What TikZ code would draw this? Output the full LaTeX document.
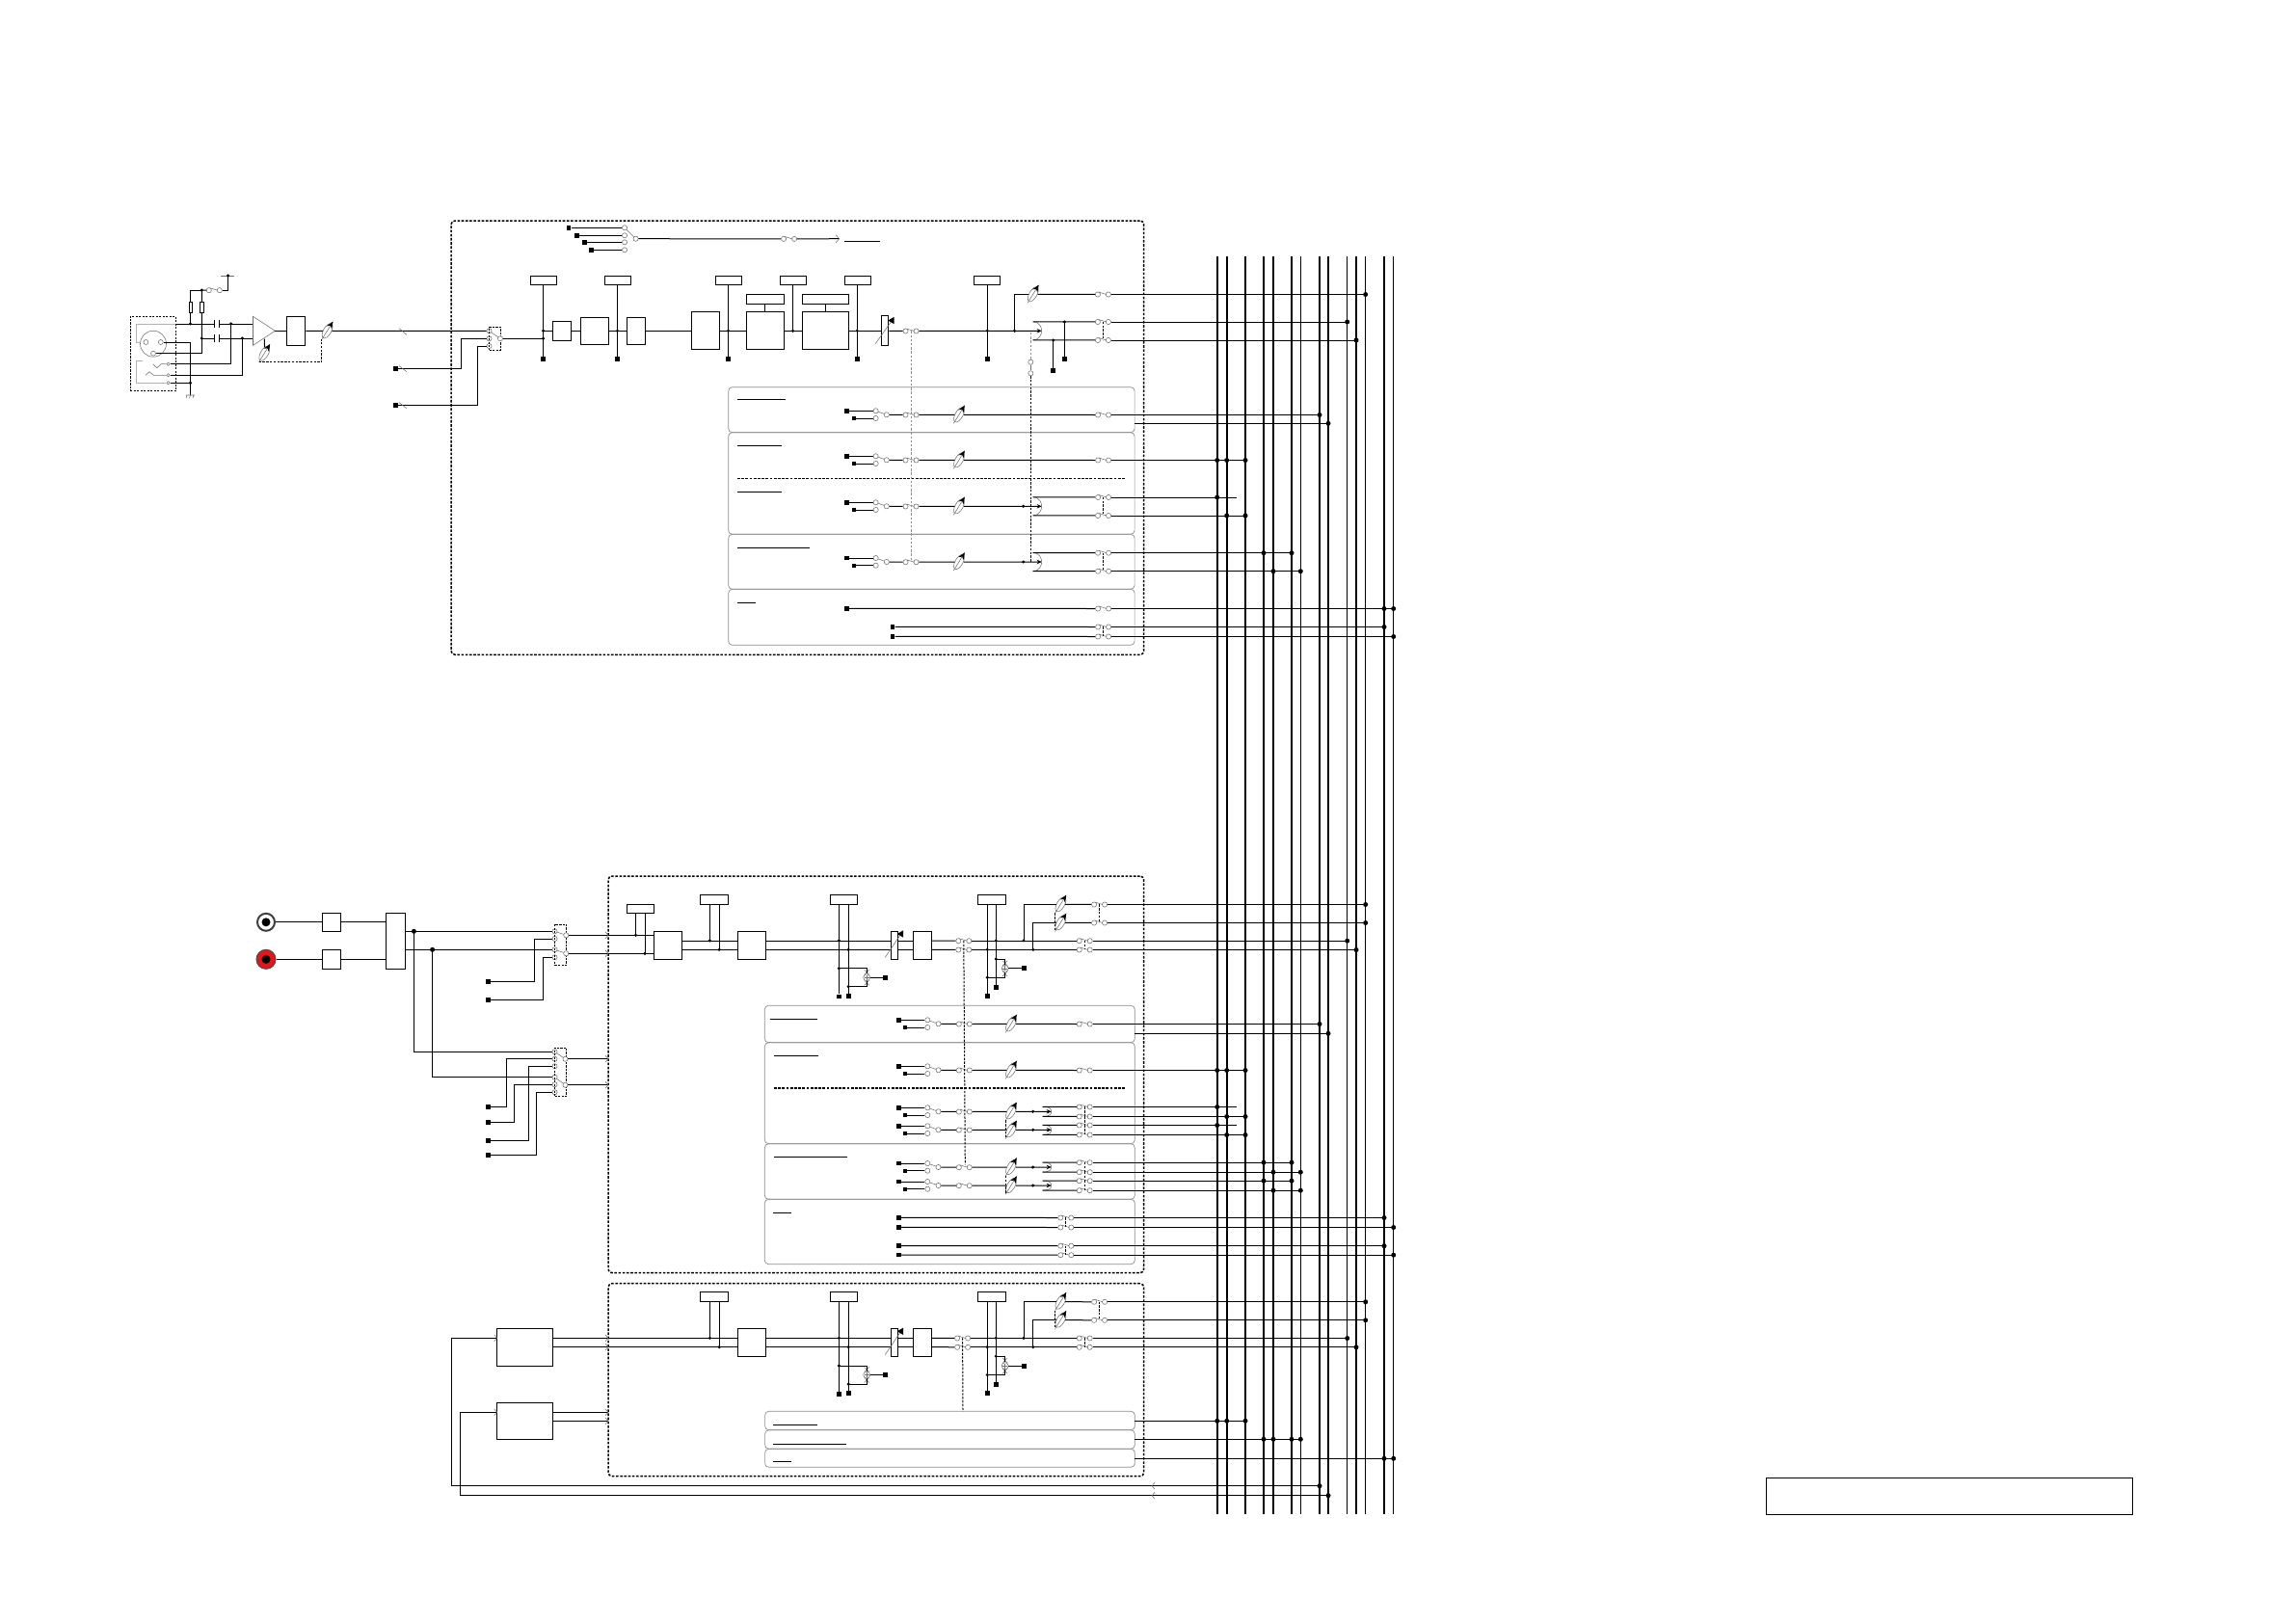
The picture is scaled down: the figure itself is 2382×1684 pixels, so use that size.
\documentclass[tikz,border=0pt]{standalone}
\usepackage{tikz}
\usetikzlibrary{arrows.meta,positioning,shapes.geometric,calc}
\definecolor{faint}{HTML}{707070}
\definecolor{plugred}{HTML}{E8141C}

\tikzset{
  wire/.style={line width=1pt, black},
  bus/.style={line width=1.8pt, black},
  busthin/.style={line width=1pt, black},
  trim/.style={line width=.55pt, faint},
  blockbox/.style={draw, line width=.9pt, inner sep=0pt, fill=white},
  tagbox/.style={draw, line width=.9pt, inner sep=0pt, fill=white},
  thinbox/.style={draw, line width=.6pt, inner sep=0pt, fill=white},
  panelbox/.style={draw=black!45, line width=.7pt, rounded corners=4pt, inner sep=0pt},
  groupbox/.style={draw, line width=1.5pt, dash pattern=on 2.6pt off 1.6pt, rounded corners=4pt, inner sep=0pt},
  gangbox/.style={draw, line width=.8pt, dash pattern=on 2.2pt off 1.3pt, inner sep=0pt},
  legendbox/.style={draw, line width=.6pt, inner sep=0pt},
  gang/.style={line width=1pt, dash pattern=on 2.4pt off 1.4pt},
  gangfaint/.style={line width=.7pt, black!45, dash pattern=on 2.4pt off 1.8pt},
  contact/.style={circle, draw=faint, fill=white, line width=.55pt, minimum size=5.2pt, inner sep=0pt},
  joint/.style={circle, fill=black, minimum size=3.4pt, inner sep=0pt},
  busjoint/.style={circle, fill=black, minimum size=5pt, inner sep=0pt},
  termsq/.style={rectangle, fill=black, minimum size=4.8pt, inner sep=0pt},
  faderring/.style={ellipse, draw=faint, fill=white, line width=.55pt, minimum width=8pt, minimum height=17pt, inner sep=0pt, rotate=-30},
  pics/contactsw/.style={code={
    \node[contact] (-l) at (-5.5,.2) {};
    \node[contact] (-r) at (5.5,.2) {};
    \coordinate (-c) at (0,0);
    \draw[trim] (-4.4,-2.2) -- (3.4,.2);
  }},
  pics/fader/.style={code={
    \node[faderring] (-c) at (0,0) {};
    \coordinate (-tail) at (-5.7,9);
    \draw[trim, -{Stealth[length=7.5pt,width=6pt,black]}] (-tail) -- (5.9,-9.8);
  }},
  pics/splitter/.style={code={
    \coordinate (-t) at (0,0);
    \coordinate (-a) at (-9,-#1);
    \coordinate (-b) at (-9,#1);
    \draw[trim] (-a) .. controls (-2,-#1) and (0,-3) .. (0,0) .. controls (0,3) and (-2,#1) .. (-b);
  }},
  pics/summer/.style={code={
    \node[contact, minimum size=7pt] (-c) at (0,0) {};
    \draw[trim] (-2.5,0) -- (2.5,0) (0,-2.5) -- (0,2.5);
    \draw[trim] (-2.4,-8) -- (2.4,-3) (2.4,-8) -- (-2.4,-3) (-2.4,8) -- (2.4,3) (2.4,8) -- (-2.4,3);
  }},
  pics/capacitor/.style={code={
    \coordinate (-l) at (-2.6,0);
    \coordinate (-r) at (2.6,0);
    \draw[line width=.6pt] (-l) ++(0,-4) -- ++(0,8) (-r) ++(0,-4) -- ++(0,8);
  }},
  pics/chev/.style={code={
    \draw[trim] (-3,-3.4) -- (0,0) -- (-3,3.4);
  }},
}

\newcounter{jcount}
\newcommand{\jdot}[2][joint]{\stepcounter{jcount}\node[#1] (j\arabic{jcount}) at (#2) {};}
\newcommand{\blk}[6][blockbox]{\node[#1, minimum width={(#5-(#3))*1pt}, minimum height={(#6-(#4))*1pt}] (#2) at ({(#3+#5)/2},{(#4+#6)/2}) {};}
\newcommand{\tap}[3]{\draw[wire] (#1) -- (#1 -| bus#2); \foreach \bn in {#3} {\jdot[busjoint]{#1 -| bus\bn}}}

% name, row, first terminal x, selector x, middle contact x, fader x
\newcommand{\chanrow}[6]{
  \node[termsq] (#1-ta) at (#3,#2-4) {};
  \node[termsq, minimum size=3.8pt] (#1-tb) at (#3+7,#2+3.7) {};
  \node[contact] (#1-sa) at (#4,#2-4) {};
  \node[contact] (#1-sb) at (#4,#2+3.7) {};
  \node[contact] (#1-mv) at (#4+11.2,#2) {};
  \draw[wire] (#1-ta) -- (#1-sa);
  \draw[wire] (#1-tb) -- (#1-sb);
  \draw[trim] (#1-sa) -- (#1-mv);
  \pic (#1-m) at (#5,#2) {contactsw};
  \pic (#1-f) at (#6,#2) {fader};
  \draw[wire] (#1-mv) -- (#1-m-l);
  \draw[wire] (#1-m-r) -- (#1-f-c);
}
% name, row, split x, half spread, out contact x
\newcommand{\splitrow}[5]{
  \pic (#1-s) at (#3,#2) {splitter=#4};
  \draw[wire, -{Stealth[length=5pt,width=4.5pt]}] (#1-f-c) -- (#1-s-t);
  \jdot{#3-19,#2}
  \pic (#1-oa) at (#5,#2-#4) {contactsw};
  \pic (#1-ob) at (#5,#2+#4) {contactsw};
  \draw[wire] (#1-s-a) -- (#1-oa-l);
  \draw[wire] (#1-s-b) -- (#1-ob-l);
  \draw[gang] (#1-oa-c) -- (#1-ob-c);
}
% name, left x, right x, row
\newcommand{\tagplain}[4]{
  \blk[tagbox]{#1}{#2-10}{#4-47.7}{#3+9.3}{#4-37.7}
  \coordinate (#1-x) at (#2,#4);
  \coordinate (#1-y) at (#3,#4+9.3);
  \draw[wire] (#1-x |- #1.south) -- (#1-x);
  \draw[wire] (#1-y |- #1.south) -- (#1-y);
  \jdot{#1-x}
  \jdot{#1-y}
}
\newcommand{\tagsumA}[4]{
  \blk[tagbox]{#1}{#2-9}{#4-47.7}{#3+9}{#4-37.7}
  \node[termsq] (#1-tl) at (#2,#4+58) {};
  \node[termsq] (#1-tr) at (#3,#4+57.3) {};
  \coordinate (#1-d1) at (#2,#4+28.7);
  \coordinate (#1-d2) at (#3,#4+47.7);
  \pic (#1-u) at (#3+19,#4+38.2) {summer};
  \node[termsq] (#1-to) at (#3+38,#4+38.2) {};
  \draw[wire] (#1-tl |- #1.south) -- (#1-tl);
  \draw[wire] (#1-tr |- #1.south) -- (#1-tr);
  \draw[wire] (#1-d1) -| (#1-u-c);
  \draw[wire] (#1-d2) -| (#1-u-c);
  \draw[wire] (#1-u-c) -- (#1-to);
  \jdot{#2,#4}
  \jdot{#3,#4+9.3}
  \jdot{#1-d1}
  \jdot{#1-d2}
}
\newcommand{\tagsumB}[4]{
  \blk[tagbox]{#1}{#2-10}{#4-47.7}{#3+10}{#4-37.7}
  \node[termsq] (#1-tl) at (#2,#4+57.3) {};
  \node[termsq] (#1-tr) at (#3,#4+48.3) {};
  \coordinate (#1-d1) at (#3,#4+19);
  \coordinate (#1-d2) at (#2,#4+38.2);
  \pic (#1-u) at (#3+9.4,#4+28.8) {summer};
  \node[termsq] (#1-to) at (#3+29,#4+28.8) {};
  \draw[wire] (#1-tl |- #1.south) -- (#1-tl);
  \draw[wire] (#1-tr |- #1.south) -- (#1-tr);
  \draw[wire] (#1-d1) -| (#1-u-c);
  \draw[wire] (#1-d2) -| (#1-u-c);
  \draw[wire] (#1-u-c) -- (#1-to);
  \jdot{#3,#4}
  \jdot{#2,#4+9.3}
  \jdot{#1-d1}
  \jdot{#1-d2}
}
% name, row, x of the ganged contacts
\newcommand{\stereotail}[3]{
  \blk{#1-p}{765.3}{#2-9.7}{794.6}{#2+19.3}
  \blk{#1-g}{924.3}{#2-9.7}{931.5}{#2+19.3}
  \blk{#1-q}{947.3}{#2-9.7}{966.6}{#2+19.3}
  \tagplain{#1-tp}{736.4}{746.2}{#2}
  \tagsumA{#1-ta}{870.4}{880.2}{#2}
  \tagsumB{#1-tb}{1024.3}{1033.3}{#2}
  \foreach \s/\dy in {a/0,b/9.3} {
    \coordinate (#1-\s) at (794.6,#2+\dy);
    \pic (#1-m\s) at (#3,#2+\dy) {contactsw};
    \pic (#1-c\s) at (1125.2,#2+\dy) {contactsw};
    \draw[wire] (#1-\s) -- (#1-g.west |- #1-\s);
    \draw[wire] (#1-g.east |- #1-\s) -- (#1-q.west |- #1-\s);
    \draw[wire] (#1-q.east |- #1-\s) -- (#1-m\s-l);
    \draw[wire] (#1-m\s-r) -- (#1-c\s-l);
  }
  \draw[gang] (#1-ca-c) -- (#1-cb-c);
  \draw[trim] (918.3,#2+17.3) -- (934,#2-6);
  \node[regular polygon, regular polygon sides=3, fill=black, minimum size=8.5pt, inner sep=0pt, rotate=-30] (#1-gt) at (935,#2-7) {};
  \tap{#1-ca-r}{j}{j};
  \tap{#1-cb-r}{k}{k};
  \pic (#1-fa) at (1100.4,#2-37.7) {fader};
  \pic (#1-fb) at (1100.4,#2-18.7) {fader};
  \pic (#1-da) at (1140.6,#2-37.7) {contactsw};
  \pic (#1-db) at (1140.6,#2-18.7) {contactsw};
  \coordinate (#1-ja) at (1062,#2);
  \coordinate (#1-jb) at (1071.8,#2+9.3);
  \draw[wire] (#1-ja) |- (#1-fa-c);
  \draw[wire] (#1-jb) |- (#1-fb-c);
  \draw[wire] (#1-fa-c) -- (#1-da-l);
  \draw[wire] (#1-fb-c) -- (#1-db-l);
  \draw[gang] (#1-fa-tail) -- (#1-fb-tail);
  \draw[gang] (#1-da-c) -- (#1-db-c);
  \jdot{#1-ja}
  \jdot{#1-jb}
  \tap{#1-da-r}{l}{l};
  \tap{#1-db-r}{l}{l};
}

\begin{document}
\begin{tikzpicture}[x=1pt,y=-1pt]
  \useasboundingbox (0,0) rectangle (2382,1684);

  % output buses
  \foreach \bn/\bx/\bw in {a/1262.7/bus,b/1272.7/bus,c/1292/bus,d/1311/bus,e/1321/bus,
      f/1340/bus,g/1349.3/busthin,h/1369/bus,i/1378/bus,j/1397.7/busthin,k/1407/bus,
      l/1416.7/busthin,m/1436/bus,n/1445.7/busthin} {
    \coordinate (bus\bn) at (\bx,266);
    \coordinate (bus\bn-e) at (\bx,1570.7);
    \draw[\bw] (bus\bn) -- (bus\bn-e);
  }
  \coordinate (busz) at (1282.7,266);

  % group frames
  \blk[groupbox]{groupA}{468}{229}{1186.7}{679.3}
  \blk[groupbox]{groupB}{631}{909}{1186.7}{1320.7}
  \blk[groupbox]{groupC}{631}{1331.7}{1186.7}{1531.7}
  \blk[legendbox]{legend}{1832}{1533}{2212}{1571}

  % send panels, first group
  \blk[panelbox]{panA}{755.7}{401.7}{1177.1}{448.7}
  \blk[panelbox]{panB}{755.7}{448.7}{1177.1}{554.3}
  \blk[panelbox]{panC}{755.7}{554.3}{1177.1}{611.3}
  \blk[panelbox]{panD}{755.7}{611.3}{1177.1}{669.3}
  % send panels, second group
  \blk[panelbox]{panE}{793.3}{1043.3}{1177.3}{1081.7}
  \blk[panelbox]{panF}{793.3}{1081.7}{1177.3}{1186.7}
  \blk[panelbox]{panG}{793.3}{1186.7}{1177.3}{1244.3}
  \blk[panelbox]{panH}{793.3}{1244.3}{1177.3}{1311.7}
  % send panels, third group
  \blk[panelbox]{panI}{793.6}{1464.3}{1177.3}{1483.7}
  \blk[panelbox]{panJ}{793.6}{1483.7}{1177.3}{1503.3}
  \blk[panelbox]{panK}{793.6}{1503.3}{1177.3}{1522.3}

  \foreach \xa/\xb/\yy in {765/815/414,765/811/462.3,765/811/510.3,765/840/568,765/784/625.3,
      799/847.7/1057.3,803/849/1095.3,803/879/1200.3,802/821/1258.3,
      802/848/1478.3,802/878/1498.3,802/821/1516.3,876/913/250} {
    \draw[line width=.8pt] (\xa,\yy) -- (\xb,\yy);
  }
  \draw[line width=1.3pt, dash pattern=on 2.8pt off 1.4pt] (765,496.7) -- (1167,496.7);
  \draw[line width=1.3pt, dash pattern=on 2.8pt off 1.4pt] (803,1129) -- (1166.7,1129);

  % mic input
  \blk[gangbox]{micjack}{135}{328.3}{182.5}{405.7}
  \node[contact, minimum size=27pt] (xlr) at (159,356.7) {};
  \node[contact, minimum size=5pt] (pinA) at (151.4,355) {};
  \node[contact, minimum size=5pt] (pinB) at (166.8,355) {};
  \node[contact, minimum size=5pt] (pinC) at (159,366.7) {};
  \draw[line width=.9pt, black!30] (182,336) -- (141.4,336) -- (141.4,355) -- (146,355);
  \draw[line width=.9pt, black!30] (147.5,374) -- (141.4,374) -- (141.4,397.3) -- (172,397.3);
  \node[contact, minimum size=3.4pt] (ringP) at (174.6,377.7) {};
  \node[contact, minimum size=3.4pt] (ringQ) at (174.6,389.3) {};
  \node[contact, minimum size=3.4pt] (ringS) at (174.6,397.3) {};
  \draw[trim] (158.6,377.7) -- (162.9,381.7) -- (167,377.7) -- (ringP);
  \draw[trim] (151,389.3) -- (155,385.7) -- (159.3,389.3) -- (ringQ);
  \coordinate (micT) at (182.5,336);
  \coordinate (micA) at (197.5,336);
  \coordinate (micB) at (209.3,351);
  \coordinate (micU) at (197.5,301);
  \coordinate (micV) at (209.3,301);
  \coordinate (micGnd) at (197.5,410);
  \coordinate (micS) at (197.5,397.3);
  \coordinate (micP) at (239.6,336);
  \coordinate (micQ) at (251.4,351);
  \coordinate (ampA) at (262.5,336);
  \coordinate (ampB) at (262.5,351);
  \coordinate (ampO) at (285.4,343.3);
  \coordinate (ampS) at (274.3,351.5);
  \coordinate (phan) at (236.6,286);
  \blk[thinbox]{resA}{195.9}{313.3}{199.1}{324.7}
  \blk[thinbox]{resB}{207.5}{313.3}{211.1}{324.7}
  \pic (micsw) at (222.3,301) {contactsw};
  \pic (capA) at (224.4,336) {capacitor};
  \pic (capB) at (224.4,351) {capacitor};
  \draw[wire] (micT) -- (capA-l);
  \draw[wire] (micB) -- (capB-l);
  \draw[wire] (capA-r) -- (ampA);
  \draw[wire] (capB-r) -- (ampB);
  \draw[wire] (micA) -- (resA) -- (micU) -- (micV);
  \draw[wire] (micB) -- (resB) -- (micV) -- (micsw-l);
  \draw[wire] (micsw-r) -| (phan);
  \draw[wire] (pinB) -| (micGnd);
  \draw[wire] (pinC) -| (micB);
  \draw[wire] (ringP) -| (micP);
  \draw[wire] (ringQ) -| (micQ);
  \draw[wire] (ringS) -- (micS);
  \draw[trim] (229,286) -- (243,286);
  \draw[trim] (193,410) -- (202,410) (194,410) -- (193,413) (197.5,410) -- (196.5,413) (201,410) -- (200,413);
  \foreach \p in {micA,micB,micV,micP,micQ,micS,phan} {\jdot{\p}}
  \draw[trim] (ampA) -- (262.5,328.3) -- (ampO) -- (262.5,358.3) -- (ampB) -- cycle;
  \blk{micbox}{297.5}{328.3}{316.8}{358.3}
  \pic (micf) at (339.6,343.3) {fader};
  \pic (micg) at (274.3,366.7) {fader};
  \draw[wire] (ampO) -- (micbox);
  \draw[wire] (micbox) -- (micf-c);
  \draw[wire] (ampS) -- (micg-c);
  \draw[gang] (micg-tail) -| (micf-tail);

  % input selector
  \node[contact] (inA) at (507.5,343.3) {};
  \node[contact] (inB) at (507.5,351.3) {};
  \node[contact] (inC) at (507.5,359) {};
  \blk[gangbox, fill=none]{ingang}{507.5}{339.3}{519.3}{363.3}
  \node[contact] (inM) at (519,351.3) {};
  \draw[trim] (inA) -- (inM);
  \draw[wire] (micf-c) -- (inA);
  \draw[trim] (414,340.7) -- (421.8,347.3);
  \foreach \n/\yy/\cc/\kx in {a/382.3/inB/478.9,b/420.3/inC/495.4} {
    \node[termsq] (lineIn\n) at (410.4,\yy) {};
    \coordinate (kink\n) at (\kx,\yy);
    \draw[wire] (lineIn\n) -- (lineIn\n -| kink\n) |- (\cc);
    \draw[trim] (414,\yy-2.7) -- (421.8,\yy+3.3);
  }

  % source selector
  \foreach \n/\xx/\yy in {a/590/236.3,b/598.6/244.3,c/606.4/251.3,d/613.6/259.3} {
    \node[termsq] (src\n) at (\xx,\yy) {};
    \node[contact] (srcc\n) at (648,\yy) {};
    \draw[wire] (src\n) -- (srcc\n);
  }
  \node[contact] (srcm) at (659.6,247.7) {};
  \draw[trim] (srcca) -- (srcm);
  \pic (cueSw) at (818.6,247.7) {contactsw};
  \coordinate (cueEnd) at (870.7,247.7);
  \draw[wire] (srcm) -- (cueSw-l);
  \draw[wire] (cueSw-r) -- (cueEnd);
  \pic[scale=1.2] (cueTip) at (870.7,247.7) {chev};

  % main chain, first group
  \coordinate (mainA) at (563.6,351.3);
  \coordinate (mainB) at (563.6,343.3);
  \blk[tagbox]{tagA}{550.4}{286.3}{577.5}{295.7}
  \node[termsq] (termA) at (563.6,372.3) {};
  \draw[wire] (termA |- tagA.south) -- (termA);
  \blk{boxA}{573.2}{333.6}{592.5}{353}
  \blk{boxB}{602}{329}{631.4}{357.6}
  \blk{boxC}{650.4}{329}{669.4}{357.6}
  \blk{boxD}{717.5}{323.8}{746.8}{362.8}
  \blk{boxE}{774.3}{323.8}{813.6}{362.8}
  \blk{boxF}{832.5}{323.8}{880.4}{362.8}
  \blk[tagbox]{tagE}{774.3}{305.7}{813.6}{315.7}
  \blk[tagbox]{tagF}{832.5}{305.7}{880.4}{315.7}
  \draw[wire] (tagE) -- (boxE);
  \draw[wire] (tagF) -- (boxF);
  \blk[tagbox]{tagB}{627.5}{286.3}{654.6}{295.7}
  \blk[tagbox]{tagD}{742.5}{286.3}{769.6}{295.7}
  \blk[tagbox]{tagG}{809.3}{286.3}{836.4}{295.7}
  \blk[tagbox]{tagH}{876.4}{286.3}{903.6}{295.7}
  \blk[tagbox]{tagJ}{1010.4}{286.3}{1037.5}{295.7}
  \node[termsq] (termB) at (640.4,372.3) {};
  \node[termsq] (termD) at (755.4,372.3) {};
  \coordinate (termG) at (822.5,343.3);
  \node[termsq] (termH) at (889.3,372.3) {};
  \node[termsq] (termJ) at (1024.3,372.3) {};
  \foreach \g/\t in {tagB/termB,tagD/termD,tagG/termG,tagH/termH,tagJ/termJ} {
    \draw[wire] (\t |- \g.south) -- (\t);
    \jdot{\t |- mainB}
  }
  \draw[wire] (inM) -- (mainA);
  \draw[wire] (mainB) -- (boxA) -- (boxB) -- (boxC) -- (boxD) -- (boxE) -- (boxF);
  \jdot{mainA}
  \jdot{mainB}
  \blk{gainA}{914.3}{327.8}{921.8}{358.8}
  \draw[wire] (boxF) -- (gainA);
  \draw[trim] (908.2,356.7) -- (925,333);
  \node[regular polygon, regular polygon sides=3, fill=black, minimum size=8.5pt, inner sep=0pt, rotate=-30] (gainTip) at (925.5,332.5) {};
  \pic (mainSw) at (945,343.3) {contactsw};
  \draw[wire] (gainA) -- (mainSw-l);
  \pic (mainSplit) at (1080.7,343.3) {splitter=9.5};
  \draw[wire, -{Stealth[length=5pt,width=4.5pt]}] (mainSw-r) -- (mainSplit-t);
  \coordinate (mainC) at (1052.5,343.3);
  \jdot{mainC}
  \pic (mainFad) at (1071.8,305.3) {fader};
  \draw[wire] (mainC) |- (mainFad-c);
  \pic (outA) at (1144.4,305.3) {contactsw};
  \pic (outB) at (1144.4,333.8) {contactsw};
  \pic (outC) at (1144.4,352.8) {contactsw};
  \draw[wire] (mainFad-c) -- (outA-l);
  \draw[wire] (mainSplit-a) -- (outB-l);
  \draw[wire] (mainSplit-b) -- (outC-l);
  \draw[gang] (outB-c) -- (outC-c);
  \node[termsq] (termK) at (1104.4,372.3) {};
  \node[termsq] (termL) at (1092.7,384.3) {};
  \draw[wire] (termK |- outB-r) -- (termK);
  \draw[wire] (termL |- outC-r) -- (termL);
  \jdot{termK |- outB-r}
  \jdot{termL |- outC-r}
  \tap{outA-r}{l}{l};
  \tap{outB-r}{j}{j};
  \tap{outC-r}{k}{k};

  % sends, first group
  \chanrow{ra}{430.3}{878.6}{908.6}{945}{995}
  \chanrow{rb}{477.3}{878.6}{908.6}{945}{995}
  \chanrow{rc}{525.3}{878.6}{908.6}{945}{995}
  \chanrow{rd}{583}{878.6}{908.6}{945}{995}
  \pic (ra-o) at (1144.6,430.3) {contactsw};
  \pic (rb-o) at (1144.6,477.3) {contactsw};
  \draw[wire] (ra-f-c) -- (ra-o-l);
  \draw[wire] (rb-f-c) -- (rb-o-l);
  \tap{ra-o-r}{h}{h};
  \coordinate (panA-out) at (1177,439.3);
  \tap{panA-out}{i}{i};
  \tap{rb-o-r}{c}{a,b,c};
  \splitrow{rc}{525.3}{1080.7}{9.5}{1144.6}
  \splitrow{rd}{583}{1080.7}{9.5}{1144.6}
  \tap{rc-oa-r}{z}{a};
  \tap{rc-ob-r}{c}{b,c};
  \tap{rd-oa-r}{f}{d,f};
  \tap{rd-ob-r}{g}{e,g};
  \pic (auxA) at (1144.6,631.3) {contactsw};
  \pic (auxB) at (1144.6,650.3) {contactsw};
  \pic (auxC) at (1144.6,660.3) {contactsw};
  \node[termsq] (auxTa) at (878.6,631.3) {};
  \node[termsq] (auxTb) at (926,650.3) {};
  \node[termsq] (auxTc) at (926,660.3) {};
  \draw[wire] (auxTa) -- (auxA-l);
  \draw[wire] (auxTb) -- (auxB-l);
  \draw[wire] (auxTc) -- (auxC-l);
  \draw[gang] (auxB-c) -- (auxC-c);
  \tap{auxA-r}{n}{m,n};
  \tap{auxB-r}{m}{m};
  \tap{auxC-r}{n}{n};

  % gang lines, first group
  \coordinate (gangA) at (945,581.7);
  \draw[gangfaint] (mainSw-c) -- (gangA);
  \node[contact] (mixA) at (1069.3,375.7) {};
  \node[contact] (mixB) at (1069.3,387.3) {};
  \coordinate (mixC) at (1069.3,345);
  \coordinate (mixD) at (1069.3,583.3);
  \draw[trim] (mixA) -- (mixB);
  \draw[gangfaint] (mixC) -- (mixA);
  \draw[gang] (mixB) -- (mixD);

  % phono inputs
  \node[circle, draw=black!75, fill=white, line width=2pt, minimum size=18pt, inner sep=0pt] (jackW) at (276,956.8) {};
  \node[circle, fill=black, minimum size=9pt, inner sep=0pt] (jackWc) at (276,956.8) {};
  \node[circle, draw=black!70, fill=plugred, line width=1pt, minimum size=20pt, inner sep=0pt] (jackR) at (276,995.3) {};
  \node[circle, fill=black, minimum size=9pt, inner sep=0pt] (jackRc) at (276,995.3) {};
  \blk{padA}{334.3}{947.3}{353.5}{966.3}
  \blk{padB}{334.3}{985.3}{353.5}{1005.3}
  \blk{merge}{400.4}{947.3}{420.4}{1005.3}
  \draw[wire] (jackW) -- (padA);
  \draw[wire] (jackR) -- (padB);
  \draw[wire] (padA) -- (merge.west |- padA);
  \draw[wire] (padB) -- (merge.west |- padB);

  \foreach \n/\yy in {1/966.3,2/974,3/985.3,4/993.3} {\node[contact] (sa\n) at (575.5,\yy) {};}
  \foreach \n/\yy in {1/1091.3,2/1098.7,3/1106.3,4/1117.7,5/1125.3,6/1133.3} {\node[contact] (sb\n) at (575.5,\yy) {};}
  \blk[gangbox, fill=none]{gangSa}{575.5}{959.3}{587.8}{1001.3}
  \blk[gangbox, fill=none]{gangSb}{575.5}{1087.3}{587.8}{1137.3}
  \node[contact] (saMa) at (587.3,970.3) {};
  \node[contact] (saMb) at (587.3,989.3) {};
  \node[contact] (sbMa) at (586.5,1098.7) {};
  \node[contact] (sbMb) at (586.5,1125.7) {};
  \draw[trim] (sa1) -- (saMa) (sa3) -- (saMb) (sb1) -- (sbMa) (sb4) -- (sbMb);
  \coordinate (mergeA) at (429.4,966.3);
  \coordinate (mergeB) at (448.6,985.3);
  \draw[wire] (merge.east |- sa1) -- (sa1);
  \draw[wire] (merge.east |- sa3) -- (sa3);
  \draw[wire] (mergeA) |- (sb1);
  \draw[wire] (mergeB) |- (sb4);
  \jdot[busjoint]{mergeA}
  \jdot[busjoint]{mergeB}
  \foreach \n/\yy/\cc/\kx in {a/1018.3/sa2/554.3,b/1037.3/sa4/563.3,c/1148.3/sb2/525.3,
      d/1164.3/sb5/533.5,e/1183.3/sb3/548.2,f/1198.3/sb6/556.3} {
    \node[termsq] (phono\n) at (506.5,\yy) {};
    \coordinate (pkink\n) at (\kx,\yy);
    \draw[wire] (phono\n) -- (phono\n -| pkink\n) |- (\cc);
  }
  \foreach \n/\from/\yy in {a/saMa/970.3,b/saMb/989.3,c/sbMa/1098.7,d/sbMb/1125.7} {
    \coordinate (edge\n) at (631,\yy);
    \draw[wire] (\from) -- (edge\n);
    \pic (chev\n) at (edge\n) {chev};
  }

  % second group
  \blk{boxN}{678.4}{966.3}{707.8}{995.3}
  \blk[tagbox]{tagN}{650}{938.3}{678.8}{947.7}
  \coordinate (nodeNa) at (659.6,970.3);
  \coordinate (nodeNb) at (669,989.3);
  \draw[wire] (edgea) -- (boxN.west |- edgea);
  \draw[wire] (edgeb) -- (boxN.west |- edgeb);
  \draw[wire] (nodeNa |- tagN.south) -- (nodeNa);
  \draw[wire] (nodeNb |- tagN.south) -- (nodeNb);
  \jdot{nodeNa}
  \jdot{nodeNb}
  \stereotail{ts}{976}{999.8}
  \draw[wire] (boxN.east |- ts-a) -- (ts-p.west |- ts-a);
  \draw[wire] (boxN.east |- ts-b) -- (ts-p.west |- ts-b);

  \chanrow{sa}{1062.3}{932.3}{962.3}{1000.3}{1049}
  \chanrow{sb}{1110.3}{932.3}{962.3}{1000.3}{1049}
  \chanrow{sc}{1153.3}{932.3}{962.3}{1000.3}{1049}
  \chanrow{sd}{1172.3}{932.3}{962.3}{1000.3}{1049}
  \chanrow{se}{1211}{932.3}{962.3}{1000.3}{1049}
  \chanrow{sf}{1230}{932.3}{962.3}{1000.3}{1049}
  \pic (sa-o) at (1125.2,1062.3) {contactsw};
  \pic (sb-o) at (1125.2,1110.3) {contactsw};
  \draw[wire] (sa-f-c) -- (sa-o-l);
  \draw[wire] (sb-f-c) -- (sb-o-l);
  \tap{sa-o-r}{h}{h};
  \coordinate (panE-out) at (1177.3,1072.3);
  \tap{panE-out}{i}{i};
  \tap{sb-o-r}{c}{a,b,c};
  \splitrow{sc}{1153.3}{1090.7}{5}{1125.2}
  \splitrow{sd}{1172.3}{1090.7}{5}{1125.2}
  \splitrow{se}{1211}{1090.7}{5}{1125.2}
  \splitrow{sf}{1230}{1090.7}{5}{1125.2}
  \draw[gang] (sc-f-tail) -- (sd-f-tail);
  \draw[gang] (se-f-tail) -- (sf-f-tail);
  \draw[gang] (sc-ob-c) -- (sd-oa-c);
  \draw[gang] (se-ob-c) -- (sf-oa-c);
  \tap{sc-oa-r}{z}{a};
  \tap{sc-ob-r}{c}{b,c};
  \tap{sd-oa-r}{z}{a};
  \tap{sd-ob-r}{c}{b,c};
  \tap{se-oa-r}{f}{d,f};
  \tap{se-ob-r}{g}{e,g};
  \tap{sf-oa-r}{f}{d,f};
  \tap{sf-ob-r}{g}{e,g};
  \foreach \n/\yy in {a/1263.3,b/1273.3,c/1292.5,d/1302} {
    \node[termsq] (auxS\n) at (932.3,\yy) {};
    \pic (auxO\n) at (1105.8,\yy) {contactsw};
    \draw[wire] (auxS\n) -- (auxO\n-l);
  }
  \draw[gang] (auxOa-c) -- (auxOb-c);
  \draw[gang] (auxOc-c) -- (auxOd-c);
  \tap{auxOa-r}{m}{m};
  \tap{auxOb-r}{n}{n};
  \tap{auxOc-r}{m}{m};
  \tap{auxOd-r}{n}{n};
  \coordinate (gangS) at (1001.3,1208.3);
  \draw[gang] (ts-ma-c) -- (gangS);

  % third group
  \blk{procA}{515.7}{1378.8}{573.7}{1417.8}
  \blk{procB}{515.7}{1455.3}{573.7}{1493.3}
  \stereotail{tr}{1388.3}{998.6}
  \draw[wire] (procA.east |- tr-a) -- (tr-p.west |- tr-a);
  \draw[wire] (procA.east |- tr-b) -- (tr-p.west |- tr-b);
  \coordinate (gangR) at (999,1464.3);
  \draw[gang] (tr-ma-c) -- (gangR);
  \coordinate (procBa) at (631,1465.3);
  \coordinate (procBb) at (631,1474.3);
  \draw[wire] (procB.east |- procBa) -- (procBa);
  \draw[wire] (procB.east |- procBb) -- (procBb);
  \coordinate (ctlA) at (468.5,1388.3);
  \coordinate (ctlB) at (477.5,1465.3);
  \coordinate (ctlAe) at (468.5,1541.7);
  \coordinate (ctlBe) at (477.5,1551.7);
  \draw[wire] (procA.west |- ctlA) -- (ctlA) -- (ctlAe) -- (ctlAe -| bush);
  \draw[wire] (procB.west |- ctlB) -- (ctlB) -- (ctlBe) -- (ctlBe -| busi);
  \jdot[busjoint]{ctlAe -| bush}
  \jdot[busjoint]{ctlBe -| busi}
  \foreach \n/\xx/\yy in {p/631/1388.3,q/631/1397.6,r/631/1465.3,s/631/1474.3,t/515.7/1388.3,u/515.7/1465.3} {
    \pic (chev\n) at (\xx,\yy) {chev};
  }
  \pic[rotate=180] (chevv) at (1195,1541.7) {chev};
  \pic[rotate=180] (chevw) at (1195,1551.7) {chev};
  \coordinate (panI-out) at (1177.3,1474.3);
  \coordinate (panJ-out) at (1177.3,1493.3);
  \coordinate (panK-out) at (1177.3,1513.3);
  \tap{panI-out}{c}{a,b,c};
  \tap{panJ-out}{g}{d,e,f,g};
  \tap{panK-out}{n}{m,n};
\end{tikzpicture}
\end{document}
